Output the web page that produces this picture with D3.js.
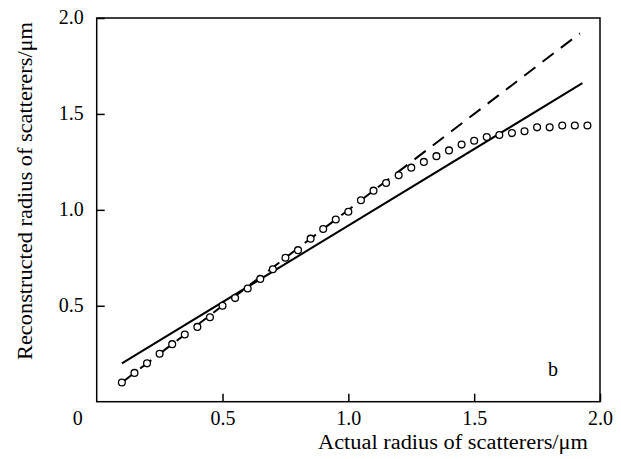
<!DOCTYPE html>
<html lang="en">
<head>
    <meta charset="UTF-8">
    <title>Reconstructed vs actual radius of scatterers</title>
    <script src="https://d3js.org/d3.v7.min.js"></script>
    <style>
        body {
            margin: 0;
            background: #fff;
        }
        svg {
            display: block;
        }
        text {
            font-family: "Liberation Serif", "Times New Roman", serif;
            fill: #000;
        }
    </style>
</head>
<body>

    <svg id="chart" width="621" height="459"></svg>

    <script>
        // Points (actual radius, reconstructed radius), in µm
        const actualRadius = [0.10, 0.15, 0.20, 0.25, 0.30, 0.35, 0.40, 0.45, 0.50, 0.55,
                              0.60, 0.65, 0.70, 0.75, 0.80, 0.85, 0.90, 0.95, 1.00, 1.05,
                              1.10, 1.15, 1.20, 1.25, 1.30, 1.35, 1.40, 1.45, 1.50, 1.55,
                              1.60, 1.65, 1.70, 1.75, 1.80, 1.85, 1.90, 1.95];
        const reconstructedRadius = [0.10, 0.15, 0.20, 0.25, 0.30, 0.35, 0.39, 0.44, 0.50, 0.54,
                                     0.59, 0.64, 0.69, 0.75, 0.79, 0.85, 0.90, 0.95, 0.99, 1.05,
                                     1.10, 1.14, 1.18, 1.22, 1.25, 1.28, 1.31, 1.34, 1.36, 1.38,
                                     1.39, 1.40, 1.41, 1.43, 1.43, 1.44, 1.44, 1.44];

        // solid straight line (fit) and dashed ideal line y = x
        const fitX = [0.10, 1.93];
        const fitY = [0.20, 1.66];
        const idealX = [0.10, 1.92];
        const idealY = [0.10, 1.92];

        const xTicks = [0.5, 1.0, 1.5, 2.0];
        const yTicks = [0.5, 1.0, 1.5, 2.0];
        const xTickLabels = ["0.5", "1.0", "1.5", "2.0"];
        const yTickLabels = ["0.5", "1.0", "1.5", "2.0"];

        const svg = d3.select("#chart");

        const x = d3.scaleLinear().domain([0, 2]).range([96.7, 600]);
        const y = d3.scaleLinear().domain([0, 2]).range([401.7, 18]);

        // frame
        svg.append("rect")
            .attr("x", x(0))
            .attr("y", y(2))
            .attr("width", x(2) - x(0))
            .attr("height", y(0) - y(2))
            .attr("fill", "none")
            .attr("stroke", "#000")
            .attr("stroke-width", 1.5);

        // axes, ticks pointing inside
        const xAxis = svg.append("g")
            .attr("transform", `translate(0,${y(0)})`)
            .call(d3.axisBottom(x)
                .tickValues(xTicks)
                .tickFormat((d, i) => xTickLabels[i])
                .tickSize(-8)
                .tickSizeOuter(0)
                .tickPadding(9));

        const yAxis = svg.append("g")
            .attr("transform", `translate(${x(0)},0)`)
            .call(d3.axisLeft(y)
                .tickValues(yTicks)
                .tickFormat((d, i) => yTickLabels[i])
                .tickSize(-8)
                .tickSizeOuter(0)
                .tickPadding(13));

        [xAxis, yAxis].forEach(g => {
            g.select(".domain").remove();
            g.selectAll("line").attr("stroke", "#000").attr("stroke-width", 1.5);
            g.selectAll("text")
                .attr("fill", "#000")
                .style("font-family", '"Liberation Serif", "Times New Roman", serif')
                .style("font-size", "20px");
        });
        yAxis.selectAll("text").attr("dy", "0.27em");

        // origin label
        svg.append("text")
            .attr("x", x(0) - 19)
            .attr("y", 425)
            .attr("text-anchor", "middle")
            .style("font-size", "20px")
            .text("0");

        const line = d3.line()
            .x(d => x(d[0]))
            .y(d => y(d[1]));

        // dashed line y = x
        svg.append("path")
            .datum(idealX.map((v, i) => [v, idealY[i]]))
            .attr("d", line)
            .attr("fill", "none")
            .attr("stroke", "#000")
            .attr("stroke-width", 2)
            .attr("stroke-dasharray", "14,9");

        // solid line
        svg.append("path")
            .datum(fitX.map((v, i) => [v, fitY[i]]))
            .attr("d", line)
            .attr("fill", "none")
            .attr("stroke", "#000")
            .attr("stroke-width", 2);

        // open circles
        svg.append("g")
            .selectAll("circle")
            .data(actualRadius.map((v, i) => [v, reconstructedRadius[i]]))
            .join("circle")
            .attr("cx", d => x(d[0]))
            .attr("cy", d => y(d[1]))
            .attr("r", 3.4)
            .attr("fill", "#fff")
            .attr("stroke", "#000")
            .attr("stroke-width", 1.3);

        // panel letter
        svg.append("text")
            .attr("x", 553)
            .attr("y", 376)
            .attr("text-anchor", "middle")
            .style("font-size", "20px")
            .text("b");

        // axis titles
        svg.append("text")
            .attr("x", 453)
            .attr("y", 449)
            .attr("text-anchor", "middle")
            .attr("textLength", 270)
            .attr("lengthAdjust", "spacingAndGlyphs")
            .style("font-size", "20px")
            .text("Actual radius of scatterers/μm");

        svg.append("text")
            .attr("transform", "translate(32,191) rotate(-90)")
            .attr("text-anchor", "middle")
            .attr("textLength", 338)
            .attr("lengthAdjust", "spacingAndGlyphs")
            .style("font-size", "20px")
            .text("Reconstructed radius of scatterers/μm");
    </script>

</body>
</html>
